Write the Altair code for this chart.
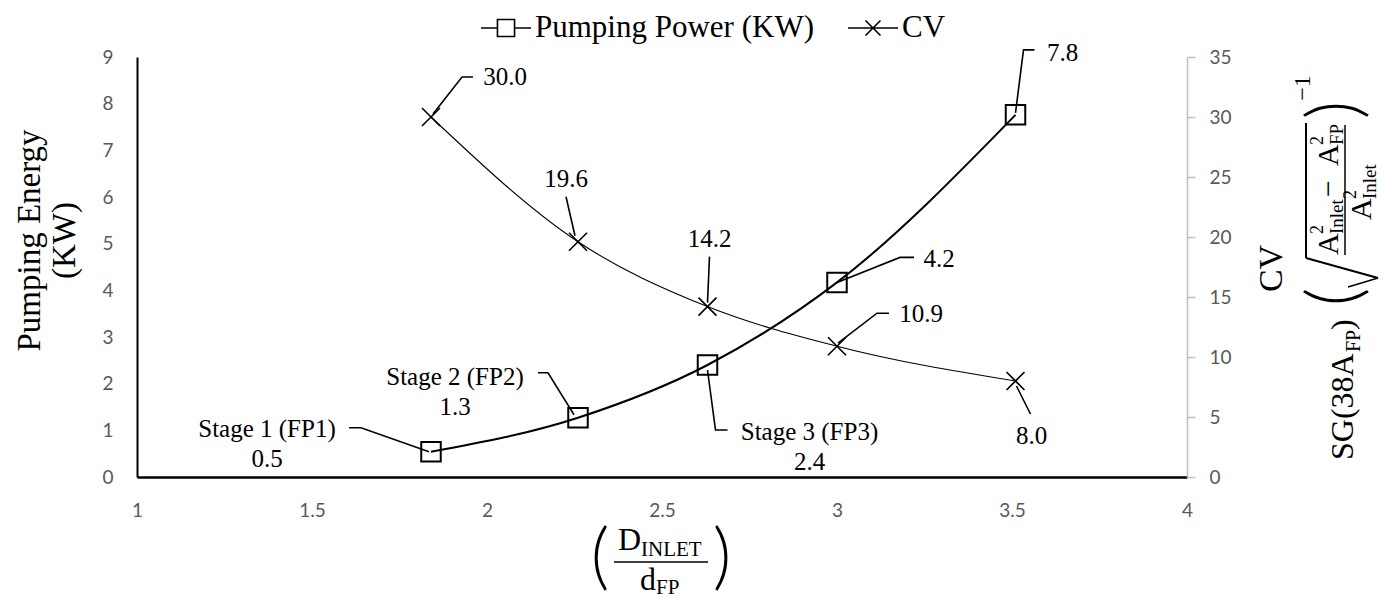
import altair as alt
import pandas as pd

# ---------------- data ----------------
ratio = [1.84, 2.26, 2.63, 3.00, 3.51]
pumping_power = [0.54, 1.27, 2.40, 4.17, 7.76]
cv_value = [30.0, 19.6, 14.2, 10.9, 8.0]
power_labels = ["Stage 1 (FP1)\n0.5", "Stage 2 (FP2)\n1.3", "Stage 3 (FP3)\n2.4", "4.2", "7.8"]
cv_labels = ["30.0", "19.6", "14.2", "10.9", "8.0"]
series_names = ["Pumping Power (KW)", "CV"]
x_ticks = [1, 1.5, 2, 2.5, 3, 3.5, 4]
left_ticks = [0, 1, 2, 3, 4, 5, 6, 7, 8, 9]
right_ticks = [0, 5, 10, 15, 20, 25, 30, 35]

# ---------------- layout ----------------
W, H = 1050, 420
X0, Y0 = 137, 57
X_DOMAIN = [1, 4]
L_DOMAIN = [0, 9]
R_DOMAIN = [0, 35]
KX = W / (X_DOMAIN[1] - X_DOMAIN[0])
KL = H / (L_DOMAIN[1] - L_DOMAIN[0])
KR = H / (R_DOMAIN[1] - R_DOMAIN[0])

SERIF = "Liberation Serif"
SANS = "Lato"
GRAY = "#595959"

# pixel offsets (right, down) of label centres and leader vertices from each point
power_text_off = [(-164, -23), (-123, -41), (102, 67), (102, -23), (47, -62)]
power_leader_off = [[(-2, 0), (-70, -24), (-82, -24)],
                    [(-4, -3), (-30, -45), (-40, -45)],
                    [(0, 5), (8, 65), (20, 65)],
                    [(0, 0), (63, -25), (77, -25)],
                    [(0, -2), (8, -65), (19, -65)]]
cv_text_off = [(74, -40), (-12, -63), (2, -68), (84, -32), (16, 55)]
cv_leader_off = [[(2, -3), (31, -40), (42, -40)],
                 [(-12, -45), (-3, -6)],
                 [(2, -50), (0, -4)],
                 [(1, -3), (40, -33), (52, -33)],
                 [(1, 5), (15, 33)]]


def label_frame(xs, vs, texts, offs, ky):
    return pd.DataFrame({
        "x": [x + dx / KX for x, (dx, dy) in zip(xs, offs)],
        "v": [v - dy / ky for v, (dx, dy) in zip(vs, offs)],
        "label": texts,
    })


def leader_frame(xs, vs, paths, ky):
    rows = []
    for i, (x, v, path) in enumerate(zip(xs, vs, paths)):
        for k, (dx, dy) in enumerate(path):
            rows.append({"id": i, "k": k, "x": x + dx / KX, "v": v - dy / ky})
    return pd.DataFrame(rows)


power_df = pd.DataFrame({"x": ratio, "v": pumping_power})
cv_df = pd.DataFrame({"x": ratio, "v": cv_value})
power_lab = label_frame(ratio, pumping_power, power_labels, power_text_off, KL)
cv_lab = label_frame(ratio, cv_value, cv_labels, cv_text_off, KR)
power_lead = leader_frame(ratio, pumping_power, power_leader_off, KL)
cv_lead = leader_frame(ratio, cv_value, cv_leader_off, KR)

x_axis = alt.Axis(values=x_ticks, format="~g", title=None, grid=False, ticks=False,
                  domainColor="black", domainWidth=2.5, labelFont=SANS,
                  labelFontSize=19, labelColor=GRAY, labelPadding=24,
                  labelFlush=False)
x_enc = alt.X("x:Q", scale=alt.Scale(domain=X_DOMAIN, nice=False, zero=False), axis=x_axis)

yl_axis = alt.Axis(values=left_ticks, orient="left", grid=False, ticks=False,
                   domainColor="black", domainWidth=2, labelFont=SANS,
                   labelFontSize=19, labelColor=GRAY, labelPadding=24,
                   title=["Pumping Energy", "(KW)"], titleFont=SERIF,
                   titleFontSize=33, titleFontWeight="normal", titleColor="black",
                   titleAngle=270, titleX=-108, titleY=183, titleAlign="center",
                   titleBaseline="middle", titleLineHeight=35)
yl_enc = alt.Y("v:Q", scale=alt.Scale(domain=L_DOMAIN, nice=False), axis=yl_axis)

yr_axis = alt.Axis(values=right_ticks, orient="right", grid=False, ticks=True,
                   tickColor="#bfbfbf", tickSize=8, tickWidth=1.5,
                   domainColor="#bfbfbf", domainWidth=1.5, labelFont=SANS,
                   labelFontSize=19, labelColor=GRAY, labelPadding=14,
                   title="CV", titleFont=SERIF, titleFontSize=34,
                   titleFontWeight="normal", titleColor="black", titleAngle=270,
                   titleX=84, titleY=211, titleAlign="center", titleBaseline="middle")
yr_enc = alt.Y("v:Q", scale=alt.Scale(domain=R_DOMAIN, nice=False), axis=yr_axis)

# ---------- left (pumping power) ----------
p_line = alt.Chart(power_df).mark_line(color="black", strokeWidth=2, interpolate="monotone").encode(x=x_enc, y=yl_enc)
p_lead = alt.Chart(power_lead).mark_line(color="black", strokeWidth=1.6).encode(
    x=x_enc, y=yl_enc, detail="id:N", order="k:Q")
p_pts = alt.Chart(power_df).mark_point(shape="square", size=380, filled=False, color="black",
                                       strokeWidth=2, opacity=1).encode(x=x_enc, y=yl_enc)
p_txt = alt.Chart(power_lab).mark_text(font=SERIF, fontSize=25, color="black", align="center",
                                       baseline="middle", lineBreak="\n", lineHeight=30).encode(
    x=x_enc, y=yl_enc, text="label:N")
left = alt.layer(p_line, p_lead, p_pts, p_txt)

# ---------- right (CV) ----------
c_line = alt.Chart(cv_df).mark_line(color="black", strokeWidth=1.1, interpolate="monotone").encode(x=x_enc, y=yr_enc)
c_lead = alt.Chart(cv_lead).mark_line(color="black", strokeWidth=1.6).encode(
    x=x_enc, y=yr_enc, detail="id:N", order="k:Q")
c_pts = alt.Chart(cv_df).mark_point(shape="M-1,-1L1,1M-1,1L1,-1", size=324, filled=False,
                                    color="black", strokeWidth=1.6, opacity=1).encode(x=x_enc, y=yr_enc)
c_txt = alt.Chart(cv_lab).mark_text(font=SERIF, fontSize=25, color="black", align="center",
                                    baseline="middle").encode(x=x_enc, y=yr_enc, text="label:N")
right = alt.layer(c_line, c_lead, c_pts, c_txt)

# ---------- legend ----------
SQ_LEG = "M-1.67,0H-0.57M0.57,0H1.67M-0.57,-0.57H0.57V0.57H-0.57Z"
X_LEG = "M-1.67,0H1.67M-0.5,-0.5L0.5,0.5M-0.5,0.5L0.5,-0.5"
legend_layer = alt.Chart(pd.DataFrame({"series": series_names})).mark_point(
    opacity=0, filled=False).encode(
    shape=alt.Shape("series:N", scale=alt.Scale(domain=series_names, range=[SQ_LEG, X_LEG]),
                    legend=alt.Legend(title=None, orient="none", legendX=353, legendY=-45,
                                      direction="horizontal", labelFont=SERIF,
                                      labelFontSize=31, labelColor="black",
                                      symbolSize=900, symbolStrokeColor="black",
                                      symbolStrokeWidth=1.6, symbolOpacity=1,
                                      labelOffset=13, columnPadding=30, labelLimit=600)))

# ---------- typeset axis-title pieces ----------
one = pd.DataFrame({"_": [0]})


def deco_text(s, px, py, size, angle=0, align="center", baseline="middle",
              font=SERIF, weight="normal"):
    return alt.Chart(one).mark_text(text=s, font=font, fontSize=size, angle=angle, align=align,
                                    baseline=baseline, color="black", fontWeight=weight).encode(
        x=alt.value(px - X0), y=alt.value(py - Y0))


def deco_rule(px1, py1, px2, py2, w):
    return alt.Chart(one).mark_rule(color="black", strokeWidth=w).encode(
        x=alt.value(px1 - X0), y=alt.value(py1 - Y0), x2=alt.value(px2 - X0), y2=alt.value(py2 - Y0))


decor = [
    # x-axis title  ( D_INLET / d_FP )
    deco_text("(", 600, 559, 72, font=SANS, weight=300),
    deco_text(")", 722, 559, 72, font=SANS, weight=300),
    deco_text("D", 618, 550, 32, align="left", baseline="alphabetic"),
    deco_text("INLET", 641, 556, 21, align="left", baseline="alphabetic"),
    deco_rule(614, 562, 708, 562, 1.5),
    deco_text("d", 640, 590, 32, align="left", baseline="alphabetic"),
    deco_text("FP", 656, 594, 21, align="left", baseline="alphabetic"),
    # right title second line  SG(38A_FP)( sqrt((A²Inlet − A²FP)/A²Inlet) )^-1
    deco_text("SG(38A", 1343, 460, 32, angle=270, align="left"),
    deco_text("FP", 1354, 352, 20, angle=270, align="left"),
    deco_text(")", 1343, 330, 32, angle=270, align="left"),
    deco_text("(", 1337, 297, 72, angle=270, font=SANS, weight=300),
    deco_text(")", 1337, 110, 72, angle=270, font=SANS, weight=300),
    deco_text("\u22121", 1303, 88, 24, angle=270),
    # radical sign
    deco_rule(1348, 287, 1378, 278, 1.5),
    deco_rule(1378, 278, 1306, 258, 2),
    deco_rule(1306, 258, 1306, 123, 2),
    # numerator
    deco_text("A", 1329, 255, 30, angle=270, align="left"),
    deco_text("2", 1318, 234, 18, angle=270, align="left"),
    deco_text("Inlet", 1337, 234, 19, angle=270, align="left"),
    deco_text("\u2212", 1329, 197, 30, angle=270, align="left"),
    deco_text("A", 1329, 166, 30, angle=270, align="left"),
    deco_text("2", 1318, 145, 18, angle=270, align="left"),
    deco_text("FP", 1337, 145, 19, angle=270, align="left"),
    deco_rule(1345, 255, 1345, 125, 1.5),
    # denominator
    deco_text("A", 1362, 220, 30, angle=270, align="left"),
    deco_text("2", 1351, 199, 18, angle=270, align="left"),
    deco_text("Inlet", 1370, 199, 19, angle=270, align="left"),
]

chart = alt.layer(left, right, legend_layer, *decor).resolve_scale(
    y="independent"
).properties(
    width=W, height=H,
    autosize=alt.AutoSizeParams(type="none"),
    padding={"left": 129, "top": 49, "right": 198, "bottom": 126},
).configure_view(stroke=None)

chart.save("out.html", embed_options={"renderer": "svg", "actions": False})
